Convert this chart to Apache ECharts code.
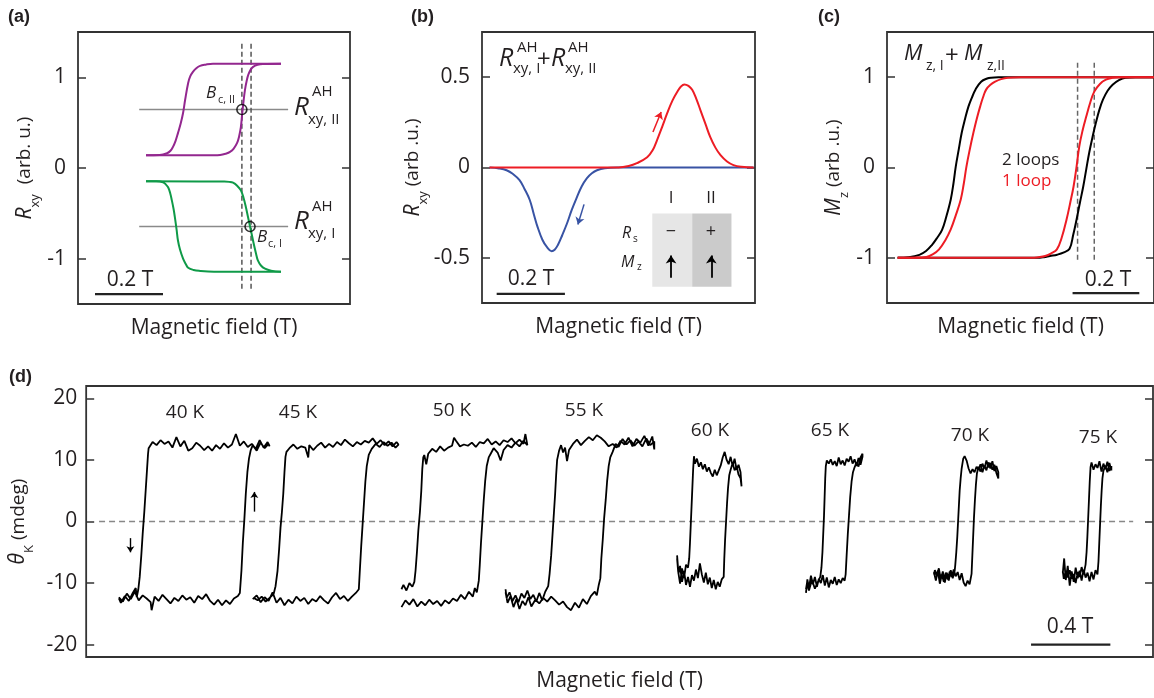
<!DOCTYPE html>
<html><head><meta charset="utf-8">
<script src="https://cdn.jsdelivr.net/npm/echarts@6/dist/echarts.min.js"></script>
<style>html,body{margin:0;padding:0;background:#fff}#c{width:1154px;height:698px}</style>
</head><body><div id="c"></div>
<script>
const FONT = '"Open Sans", Roboto, sans-serif';
const INK = '#231f20';
// ---------- Panel (a) ----------
const aPurpleDown = [[-0.2,0.14],[-0.16,0.143],[-0.138,0.163],[-0.128,0.19],[-0.121,0.23],[-0.113,0.3],[-0.106,0.385],[-0.098,0.49],[-0.091,0.606],[-0.085,0.75],[-0.076,0.938],[-0.07,1.01],[-0.062,1.06],[-0.052,1.1],[-0.041,1.126],[-0.025,1.14],[-0.003,1.15],[0.197,1.15]];
const aPurpleUp = [[-0.2,0.14],[0.0,0.14],[0.018,0.143],[0.035,0.158],[0.047,0.177],[0.058,0.215],[0.068,0.277],[0.074,0.35],[0.079,0.45],[0.083,0.6],[0.087,0.74],[0.091,0.86],[0.096,0.96],[0.101,1.03],[0.108,1.085],[0.115,1.115],[0.128,1.138],[0.144,1.147],[0.197,1.15]];
const aGreenDown = [[-0.2,-0.145],[-0.17,-0.147],[-0.15,-0.158],[-0.142,-0.18],[-0.135,-0.213],[-0.129,-0.275],[-0.124,-0.357],[-0.119,-0.45],[-0.115,-0.545],[-0.11,-0.68],[-0.106,-0.8],[-0.1,-0.9],[-0.091,-1.0],[-0.083,-1.06],[-0.076,-1.1],[-0.06,-1.125],[-0.041,-1.135],[0.0,-1.143],[0.197,-1.145]];
const aGreenUp = [[-0.2,-0.145],[0.03,-0.15],[0.045,-0.153],[0.056,-0.162],[0.068,-0.195],[0.079,-0.247],[0.087,-0.33],[0.094,-0.435],[0.1,-0.54],[0.106,-0.645],[0.112,-0.75],[0.118,-0.855],[0.124,-0.95],[0.129,-1.02],[0.138,-1.075],[0.15,-1.11],[0.168,-1.132],[0.197,-1.145]];
const aGuideLevels = [0.645, -0.645];
const aGuideRange = [-0.22, 0.218];
const aDashX = [0.082, 0.109];
const aDashRange = [1.37, -1.35];
const aCircles = [[0.082,0.645],[0.106,-0.645]];
const aBar = [[-0.35,-1.39],[-0.15,-1.39]];
const aTicks = [-1, 0, 1];
// ---------- Panel (b) ----------
const bBlue = [[-0.378,0],[-0.35,-0.005],[-0.328,-0.015],[-0.31,-0.035],[-0.29,-0.07],[-0.275,-0.12],[-0.26,-0.18],[-0.248,-0.26],[-0.237,-0.33],[-0.223,-0.4],[-0.21,-0.44],[-0.196,-0.463],[-0.187,-0.455],[-0.178,-0.43],[-0.165,-0.375],[-0.151,-0.31],[-0.137,-0.235],[-0.122,-0.165],[-0.108,-0.105],[-0.093,-0.06],[-0.078,-0.032],[-0.063,-0.015],[-0.04,-0.004],[-0.004,0],[0.396,0]];
const bRed = [[-0.378,0],[0.0,0],[0.03,0.008],[0.054,0.024],[0.084,0.057],[0.1,0.095],[0.113,0.152],[0.128,0.225],[0.143,0.302],[0.158,0.37],[0.172,0.418],[0.183,0.448],[0.193,0.46],[0.205,0.452],[0.216,0.43],[0.228,0.38],[0.24,0.318],[0.255,0.24],[0.269,0.168],[0.284,0.11],[0.299,0.068],[0.318,0.033],[0.337,0.013],[0.36,0.004],[0.396,0]];
const bRedArrow = [[0.101,0.196],[0.125,0.307]];
const bBlueArrow = [[-0.101,-0.204],[-0.119,-0.315]];
const bCellsX = [0.099, 0.216, 0.331];
const bCellsY = [-0.254, -0.66];
const bCellArrows = [[[0.154,-0.61],[0.154,-0.487]],[[0.272,-0.61],[0.272,-0.487]]];
const bBar = [[-0.357,-0.70],[-0.157,-0.70]];
const bTicks = [-0.5, 0, 0.5];
// ---------- Panel (c) ----------
const cBlackDown = [[-0.368,-1],[-0.335,-0.993],[-0.303,-0.967],[-0.283,-0.925],[-0.265,-0.856],[-0.25,-0.78],[-0.235,-0.69],[-0.222,-0.54],[-0.209,-0.354],[-0.201,-0.18],[-0.194,0.01],[-0.185,0.2],[-0.176,0.387],[-0.166,0.54],[-0.156,0.674],[-0.145,0.78],[-0.135,0.862],[-0.118,0.95],[-0.1,0.985],[-0.088,0.994],[-0.06,0.999],[-0.038,1],[0.4,1]];
const cBlackUp = [[-0.368,-1],[0.05,-1],[0.07,-0.993],[0.088,-0.98],[0.11,-0.965],[0.13,-0.94],[0.147,-0.9],[0.158,-0.745],[0.168,-0.575],[0.178,-0.39],[0.188,-0.21],[0.197,-0.02],[0.206,0.166],[0.216,0.34],[0.226,0.497],[0.236,0.635],[0.247,0.751],[0.261,0.85],[0.276,0.917],[0.295,0.968],[0.315,0.994],[0.344,1],[0.4,1]];
const cRedDown = [[-0.368,-1],[-0.32,-0.998],[-0.282,-0.99],[-0.262,-0.96],[-0.244,-0.906],[-0.226,-0.81],[-0.209,-0.685],[-0.194,-0.53],[-0.179,-0.354],[-0.17,-0.18],[-0.162,0.01],[-0.152,0.2],[-0.141,0.387],[-0.131,0.54],[-0.121,0.674],[-0.112,0.78],[-0.103,0.862],[-0.09,0.915],[-0.076,0.95],[-0.058,0.978],[-0.038,0.994],[0,1],[0.4,1]];
const cRedUp = [[-0.368,-1],[0.03,-1],[0.055,-0.993],[0.074,-0.98],[0.092,-0.95],[0.109,-0.906],[0.124,-0.77],[0.138,-0.575],[0.149,-0.39],[0.159,-0.21],[0.168,0.01],[0.176,0.232],[0.186,0.41],[0.197,0.564],[0.209,0.72],[0.221,0.84],[0.238,0.925],[0.256,0.972],[0.275,0.993],[0.294,1],[0.4,1]];
const cDashX = [0.171, 0.221];
const cDashRange = [1.16, -1.02];
const cBar = [[0.156,-1.39],[0.356,-1.39]];
const cTicks = [-1, 0, 1];
// ---------- Panel (d) ----------
const dTicks = [-20, -10, 0, 10, 20];
const dTemps = ['40 K','45 K','50 K','55 K','60 K','65 K','70 K','75 K'];
const d40 = [[0.55,-12.3],[0.57,-13.0],[0.59,-11.7],[0.61,-12.6],[0.63,-11.4],[0.65,-12.8],[0.67,-12.0],[0.69,-12.5],[0.71,-13.1],[0.715,-14.4],[0.73,-12.2],[0.75,-12.9],[0.77,-11.9],[0.79,-12.6],[0.81,-13.3],[0.83,-12.4],[0.85,-12.9],[0.87,-12.0],[0.89,-12.7],[0.91,-12.3],[0.93,-13.2],[0.95,-12.1],[0.97,-12.6],[0.99,-11.8],[1.01,-12.9],[1.03,-13.5],[1.05,-12.7],[1.07,-13.6],[1.09,-12.8],[1.11,-13.4],[1.13,-12.5],[1.15,-12.1],[1.16,-11.6],
[1.168,-8],[1.175,-3.5],[1.183,0.5],[1.19,4.5],[1.198,8],[1.206,10.2],[1.215,11.6],[1.225,12.4],[1.245,11.5],[1.265,12.8],[1.285,11.9],[1.305,12.6],[1.31,12.2],
[1.30,12.9],[1.28,12.0],[1.26,13.2],[1.24,11.8],[1.22,12.6],[1.20,12.1],[1.18,13.0],[1.16,12.3],[1.14,14.2],[1.12,12.5],[1.10,12.0],[1.08,12.7],[1.06,11.8],[1.04,12.4],[1.02,11.5],[1.00,12.2],[0.98,11.6],[0.96,12.3],[0.94,12.8],[0.92,11.9],[0.90,11.5],[0.88,13.1],[0.86,12.2],[0.84,13.7],[0.82,12.0],[0.80,13.0],[0.78,12.6],[0.76,13.2],[0.74,12.4],[0.72,12.9],[0.70,11.9],[0.697,11.0],
[0.692,8.5],[0.685,5],[0.678,1.5],[0.67,-2],[0.663,-5.5],[0.655,-9],[0.648,-11],[0.64,-12.3],[0.635,-10.8],[0.62,-11.6],[0.60,-12.9],[0.58,-12.1],[0.56,-13.2],[0.55,-12.5]];
const d45 = [[1.225,-12.6],[1.245,-12.0],[1.265,-13.1],[1.285,-12.3],[1.305,-12.9],[1.325,-11.5],[1.345,-13.2],[1.365,-12.4],[1.385,-13.6],[1.405,-12.7],[1.425,-13.3],[1.445,-12.2],[1.465,-12.9],[1.485,-12.4],[1.505,-13.4],[1.525,-12.6],[1.545,-13.0],[1.565,-12.1],[1.585,-12.8],[1.605,-13.3],[1.625,-12.3],[1.645,-11.6],[1.665,-12.6],[1.685,-12.1],[1.705,-12.9],[1.725,-12.2],[1.745,-11.6],[1.76,-11.0],
[1.765,-8],[1.772,-4],[1.779,-0.5],[1.786,3],[1.793,6.5],[1.80,9],[1.81,10.8],[1.825,11.8],[1.845,12.6],[1.865,12.1],[1.885,12.9],[1.905,12.3],[1.925,12.8],[1.945,12.0],[1.96,12.5],
[1.95,12.9],[1.93,12.2],[1.91,13.0],[1.89,12.4],[1.87,13.2],[1.85,12.6],[1.83,13.5],[1.81,12.8],[1.79,13.1],[1.77,12.5],[1.75,12.9],[1.73,12.2],[1.71,12.7],[1.69,13.3],[1.67,12.4],[1.65,12.9],[1.63,12.1],[1.61,12.6],[1.59,12.0],[1.57,12.8],[1.55,12.3],[1.53,11.6],[1.51,12.4],[1.505,10.4],[1.49,12.0],[1.47,12.2],[1.45,11.8],[1.43,12.5],[1.41,11.9],[1.395,11.3],[1.39,10.5],
[1.385,8],[1.379,4.5],[1.372,1.5],[1.365,-1],[1.358,-4.5],[1.35,-8],[1.34,-10.5],[1.33,-11.8],[1.31,-12.4],[1.29,-13.0],[1.27,-12.2],[1.25,-12.8],[1.23,-12.4]];
const d50 = [[1.975,-13.9],[1.995,-12.8],[2.015,-13.5],[2.035,-12.6],[2.055,-13.8],[2.075,-13.0],[2.095,-13.6],[2.115,-12.7],[2.135,-13.4],[2.155,-12.9],[2.175,-13.7],[2.195,-12.8],[2.215,-13.3],[2.235,-12.5],[2.255,-12.9],[2.275,-11.9],[2.295,-12.6],[2.315,-11.4],[2.335,-12.2],[2.345,-10.8],[2.355,-11.5],[2.365,-9.6],
[2.37,-7],[2.376,-3.5],[2.383,0],[2.39,3.5],[2.397,6.5],[2.405,9],[2.415,10.4],[2.425,11.0],[2.44,11.9],[2.46,11.2],[2.475,9.9],[2.49,11.6],[2.51,12.4],[2.53,12.0],[2.55,12.8],[2.57,12.2],[2.59,13.1],[2.61,12.4],
[2.60,14.2],[2.59,12.6],[2.57,13.3],[2.55,12.7],[2.53,13.5],[2.51,12.9],[2.49,13.2],[2.47,12.4],[2.45,13.0],[2.43,12.5],[2.41,13.4],[2.39,12.7],[2.37,12.9],[2.35,12.1],[2.33,12.8],[2.31,12.3],[2.29,12.5],[2.27,12.2],[2.25,13.1],[2.24,13.6],[2.23,12.3],[2.21,12.0],[2.19,11.5],[2.17,12.2],[2.15,11.3],[2.13,11.8],[2.11,11.0],[2.10,9.3],[2.09,10.8],[2.085,10.4],
[2.08,8.5],[2.075,5],[2.068,1.5],[2.06,-1.5],[2.053,-5],[2.046,-8],[2.04,-9.8],[2.03,-10.6],[2.015,-10.0],[2.00,-11.2],[1.985,-10.3],[1.975,-11.0]];
const d55 = [[2.50,-11.5],[2.51,-13.2],[2.525,-12.1],[2.54,-13.9],[2.555,-12.6],[2.57,-14.2],[2.585,-12.9],[2.60,-13.6],[2.615,-12.3],[2.63,-13.8],[2.65,-12.7],[2.67,-13.3],[2.69,-12.4],[2.71,-13.0],[2.73,-12.2],[2.75,-12.8],[2.77,-13.5],[2.79,-13.0],[2.81,-13.9],[2.83,-14.4],[2.85,-13.2],[2.87,-14.0],[2.89,-12.6],[2.91,-13.4],[2.93,-12.1],[2.95,-11.4],[2.96,-12.0],[2.97,-10.3],[2.978,-9.2],
[2.983,-6],[2.99,-3],[2.997,0.5],[3.005,3.5],[3.012,6.5],[3.02,9],[3.028,10.4],[3.04,11.3],[3.055,12.6],[3.07,12.1],[3.09,13.4],[3.11,12.5],[3.13,13.2],[3.15,12.3],[3.17,13.0],[3.19,12.2],[3.21,13.5],[3.23,12.4],[3.25,13.0],
[3.25,11.7],[3.24,13.8],[3.22,12.3],[3.20,13.9],[3.18,12.8],[3.16,13.4],[3.14,12.2],[3.12,13.6],[3.10,12.5],[3.08,13.1],[3.06,12.0],[3.04,12.6],[3.02,12.2],[3.00,13.0],[2.98,13.6],[2.96,14.0],[2.94,13.2],[2.92,13.7],[2.90,13.1],[2.88,12.4],[2.86,13.3],[2.84,12.6],[2.82,11.6],[2.81,9.8],[2.80,12.0],[2.79,11.2],[2.78,12.4],[2.77,11.5],[2.76,10.0],
[2.755,7.5],[2.75,4.5],[2.744,1.5],[2.737,-2],[2.73,-5.5],[2.722,-8.5],[2.715,-10.5],[2.70,-11.4],[2.685,-12.8],[2.67,-11.6],[2.655,-13.0],[2.64,-11.9],[2.625,-12.6],[2.61,-11.2],[2.595,-12.4],[2.58,-11.7],[2.565,-13.1],[2.55,-12.0],[2.535,-12.9],[2.52,-11.5],[2.505,-12.4],[2.50,-11.0]];
const d60 = [[3.365,-5.5],[3.372,-8.5],[3.38,-7.2],[3.39,-9.8],[3.40,-8.0],[3.41,-10.3],[3.42,-9.0],[3.43,-10.6],[3.44,-8.7],[3.45,-9.6],[3.46,-7.8],[3.47,-9.2],[3.48,-6.8],[3.49,-8.6],[3.50,-9.9],[3.51,-8.3],[3.52,-10.2],[3.53,-9.1],[3.54,-10.8],[3.55,-9.5],[3.56,-11.0],[3.57,-9.8],[3.58,-10.6],[3.59,-9.4],[3.60,-9.0],
[3.603,-6],[3.607,-3],[3.612,0],[3.617,3],[3.622,5.5],[3.628,7.5],[3.635,8.4],[3.645,9.5],[3.655,8.3],[3.665,9.0],[3.675,7.6],[3.685,7.0],[3.69,5.7],
[3.685,8.0],[3.675,9.2],[3.665,8.4],[3.655,10.2],[3.645,9.0],[3.635,10.5],[3.625,9.3],[3.615,10.0],[3.605,11.3],[3.595,10.4],[3.585,9.1],[3.575,8.3],[3.565,7.5],[3.555,8.4],[3.545,7.3],[3.535,7.9],[3.525,8.8],[3.515,8.1],[3.505,9.3],[3.495,8.5],[3.485,9.6],[3.475,8.9],[3.465,10.2],[3.455,9.4],[3.45,10.6],
[3.446,8.5],[3.442,5.5],[3.438,2.5],[3.434,-0.5],[3.43,-3.5],[3.426,-6],[3.42,-7.5],[3.41,-7.0],[3.40,-9.2],[3.39,-7.6],[3.38,-10.1],[3.37,-8.0],[3.365,-6.0]];
const d65 = [[4.015,-11.6],[4.022,-9.4],[4.03,-10.8],[4.04,-8.8],[4.05,-10.2],[4.06,-9.0],[4.07,-10.6],[4.08,-9.3],[4.09,-10.0],[4.10,-8.7],[4.11,-10.4],[4.12,-9.1],[4.13,-10.7],[4.14,-9.5],[4.15,-10.1],[4.16,-9.0],[4.17,-10.3],[4.18,-9.4],[4.19,-10.0],[4.20,-9.2],[4.21,-9.6],[4.215,-8.6],
[4.22,-5.5],[4.226,-2],[4.232,1],[4.238,4],[4.245,6.5],[4.252,8],[4.26,8.8],[4.27,9.6],[4.28,8.9],[4.29,10.4],[4.30,11.0],
[4.30,10.5],[4.29,9.2],[4.28,10.3],[4.27,9.0],[4.26,10.1],[4.25,9.4],[4.24,10.6],[4.23,9.7],[4.22,10.2],[4.21,9.1],[4.20,9.9],[4.19,9.3],[4.18,10.4],[4.17,9.0],[4.16,9.8],[4.15,9.2],[4.14,10.1],[4.13,9.4],[4.12,9.9],[4.115,9.0],
[4.112,7],[4.109,4],[4.106,1],[4.102,-2],[4.098,-5],[4.093,-7.5],[4.087,-9],[4.075,-9.8],[4.06,-10.9],[4.045,-9.5],[4.03,-11.2],[4.02,-10.0],[4.015,-11.0]];
const d70 = [[4.66,-8.2],[4.67,-9.6],[4.68,-8.0],[4.69,-10.1],[4.70,-8.6],[4.71,-9.8],[4.72,-8.3],[4.73,-9.4],[4.74,-8.1],[4.75,-9.0],[4.76,-7.8],[4.77,-8.9],[4.78,-8.2],[4.79,-9.5],[4.80,-8.4],[4.81,-9.9],[4.82,-10.5],[4.83,-9.6],[4.84,-10.2],[4.85,-8.5],
[4.854,-5.5],[4.858,-2.5],[4.862,0.5],[4.867,3.5],[4.872,6],[4.877,7.8],[4.885,8.9],[4.895,8.1],[4.905,9.4],[4.915,8.6],[4.925,9.9],[4.935,8.8],[4.945,9.5],[4.955,8.4],[4.965,9.2],[4.975,7.9],[4.985,7.0],
[4.985,8.0],[4.975,9.0],[4.965,8.2],[4.955,9.8],[4.945,8.6],[4.935,9.6],[4.925,8.3],[4.915,9.1],[4.905,8.0],[4.895,9.3],[4.885,8.4],[4.875,8.9],[4.865,8.0],[4.855,8.5],[4.845,7.8],[4.835,8.6],[4.825,9.9],[4.815,10.6],[4.808,10.2],[4.80,8.6],[4.795,7.0],
[4.79,5],[4.786,2.5],[4.782,0],[4.778,-2.5],[4.773,-5],[4.768,-7],[4.765,-8],[4.755,-9.2],[4.745,-7.9],[4.735,-9.6],[4.725,-8.3],[4.715,-9.9],[4.705,-8.1],[4.695,-9.4],[4.685,-7.6],[4.675,-8.8],[4.665,-7.9],[4.66,-8.6]];
const d75 = [[5.31,-8.4],[5.317,-6.0],[5.325,-9.5],[5.335,-7.2],[5.345,-10.4],[5.355,-8.1],[5.365,-9.8],[5.375,-7.5],[5.385,-9.2],[5.395,-8.0],[5.405,-9.6],[5.415,-7.8],[5.425,-9.1],[5.435,-8.3],[5.445,-9.7],[5.455,-8.2],[5.465,-9.4],[5.475,-7.9],[5.485,-8.6],[5.49,-6.5],
[5.494,-3.5],[5.498,-0.5],[5.502,2.5],[5.506,5],[5.51,7],[5.515,8.2],[5.525,9.1],[5.535,8.0],[5.545,9.5],[5.555,8.3],
[5.555,9.0],[5.545,8.2],[5.535,9.7],[5.525,8.5],[5.515,9.4],[5.505,8.1],[5.495,9.8],[5.485,8.7],[5.475,9.3],[5.465,8.4],[5.455,9.6],[5.45,8.8],
[5.446,6.5],[5.442,3.5],[5.438,0.5],[5.434,-2.5],[5.43,-5],[5.425,-7],[5.415,-8.6],[5.405,-7.4],[5.395,-9.0],[5.385,-8.2],[5.375,-10.0],[5.365,-8.5],[5.355,-9.3],[5.345,-7.9],[5.335,-9.1],[5.325,-8.0],[5.315,-9.3],[5.31,-8.0]];
const dLoops = [d40, d45, d50, d55, d60, d65, d70, d75];
const dZero = [[0.45,0],[5.665,0]];
const dArrows = [[[0.608,-2.7],[0.608,-5.0]],[[1.233,1.6],[1.233,4.8]]];
const dBar = [[5.15,-20],[5.55,-20]];

// ---------- layout ----------
const grids = [
  {left:78, top:32, width:272, height:272},
  {left:482, top:32, width:273, height:271},
  {left:887, top:32, width:272, height:271},
  {left:77, top:386, width:1076, height:271}
].map(g => Object.assign(g, {show:true, borderColor:'#333', borderWidth:1.8, backgroundColor:'transparent'}));
const xr = [[-0.4,0.4],[-0.4,0.4],[-0.4,0.4],[0.385,5.765]];
const yr = [[-1.5,1.5],[-0.75,0.75],[-1.5,1.5],[-22,22]];
const yt = [aTicks, bTicks, cTicks, dTicks];
const rich = {
  i:{fontStyle:'italic', fontSize:21, fontFamily:FONT, color:INK, lineHeight:34, verticalAlign:'middle'},
  s:{fontSize:13, fontFamily:FONT, color:INK, lineHeight:14, verticalAlign:'bottom'},
  n:{fontSize:19, fontFamily:FONT, color:INK, lineHeight:34, verticalAlign:'middle'}
};
const yNames = ['{i|R}{s|xy}{n|  (arb. u.)}','{i|R}{s|xy}{n| (arb .u.)}','{i|M}{s|z}{n| (arb .u.)}','{i|θ}{s|K}{n| (mdeg)}'];
const xAxes = xr.map((r,i)=>({gridIndex:i, type:'value', min:r[0], max:r[1], position:'bottom',
  axisLine:{show:false, onZero:false}, axisTick:{show:false}, axisLabel:{show:false}, splitLine:{show:false},
  name:'Magnetic field (T)', nameLocation:'middle', nameGap:14,
  nameTextStyle:{fontSize:21, fontFamily:FONT, color:INK}}));
const yLeft = yr.map((r,i)=>({gridIndex:i, type:'value', min:r[0], max:r[1], position:'left',
  axisLine:{show:false, onZero:false}, splitLine:{show:false},
  axisTick:{show:true, inside:true, length:8, lineStyle:{color:'#333', width:1.5}, customValues:yt[i]},
  axisLabel:{show:true, customValues:yt[i], margin:i===3?9:12, fontSize:21, fontFamily:FONT, color:INK},
  name:yNames[i], nameLocation:'middle', nameGap:i===3?32:36, nameTextStyle:{rich}}));
const yRight = yr.map((r,i)=>({gridIndex:i, type:'value', min:r[0], max:r[1], position:'right',
  axisLine:{show:false, onZero:false}, splitLine:{show:false}, axisLabel:{show:false},
  axisTick:{show:true, inside:true, length:8, lineStyle:{color:'#333', width:1.5}, customValues:yt[i]}}));

function L(g, data, color, width, extra){
  return Object.assign({type:'line', xAxisIndex:g, yAxisIndex:g, data, symbol:'none', showSymbol:false,
    lineStyle:{color, width}, animation:false, silent:true, z:3}, extra||{});
}
function smooth(g, data, color){ return L(g, data, color, 2, {smooth:0.4}); }
function arrows(g, pairs, color, width, size){
  return {type:'line', xAxisIndex:g, yAxisIndex:g, data:[], silent:true, animation:false,
    markLine:{silent:true, animation:false, symbol:['none','arrow'], symbolSize:size||7, label:{show:false},
      lineStyle:{color, width:width||1.4, type:'solid'},
      data:pairs.map(p=>[{coord:p[0]},{coord:p[1]}])}};
}
const series = [];
// (a)
aGuideLevels.forEach(v=>series.push(L(0,[[aGuideRange[0],v],[aGuideRange[1],v]],'#8a8a8a',1.6,{z:2})));
aDashX.forEach(v=>series.push(L(0,[[v,aDashRange[0]],[v,aDashRange[1]]],'#555',1.5,{z:2, lineStyle:{color:'#555',width:1.5,type:[5,3]}})));
series.push(smooth(0,aPurpleDown,'#93278f'), smooth(0,aPurpleUp,'#93278f'), smooth(0,aGreenDown,'#0f9a48'), smooth(0,aGreenUp,'#0f9a48'));
series.push({type:'scatter', xAxisIndex:0, yAxisIndex:0, data:aCircles, symbol:'circle', symbolSize:10, silent:true, animation:false, z:5,
  itemStyle:{color:'rgba(255,255,255,0)', borderColor:'#000', borderWidth:1.6}});
series.push(L(0,aBar,'#222',2.2));
// (b)
series.push({type:'line', xAxisIndex:1, yAxisIndex:1, data:[], silent:true, animation:false, z:1,
  markArea:{silent:true, animation:false, data:[
    [{coord:[bCellsX[0],bCellsY[0]], itemStyle:{color:'#e6e6e6'}},{coord:[bCellsX[1],bCellsY[1]]}],
    [{coord:[bCellsX[1],bCellsY[0]], itemStyle:{color:'#cbcbcb'}},{coord:[bCellsX[2],bCellsY[1]]}]]}});
series.push(smooth(1,bBlue,'#3853a4'), smooth(1,bRed,'#ed1c24'));
series.push(arrows(1,[bRedArrow],'#ed1c24',1.5,7), arrows(1,[bBlueArrow],'#3853a4',1.5,7), arrows(1,bCellArrows,'#000',1.8,8));
series.push(L(1,bBar,'#222',2.2));
// (c)
cDashX.forEach(v=>series.push(L(2,[[v,cDashRange[0]],[v,cDashRange[1]]],'#666',1.5,{z:2, lineStyle:{color:'#666',width:1.5,type:[5,3]}})));
series.push(smooth(2,cBlackDown,'#000'), smooth(2,cBlackUp,'#000'), smooth(2,cRedDown,'#ed1c24'), smooth(2,cRedUp,'#ed1c24'));
series.push(L(2,cBar,'#222',2.2));
// (d)
series.push(L(3,dZero,'#888',1.5,{z:2, lineStyle:{color:'#888',width:1.5,type:[6,4]}}));
dLoops.forEach(d=>series.push(L(3,d,'#000',1.8)));
series.push(arrows(3,dArrows,'#000',1.4,6));
series.push(L(3,dBar,'#222',2.2));

function T(x,y,text,font,fill,align){
  return {type:'text', x, y, z:100, zlevel:0, silent:true, style:{text, font, fill:fill||INK, textAlign:align||'left', align:align||'left', textVerticalAlign:'middle', verticalAlign:'middle'}};
}
const it = s => 'italic '+s+'px '+FONT;
const rg = s => s+'px '+FONT;
const bold = '700 18px "Liberation Sans", Arial, sans-serif';
const tempX = [185,298,452,584,710,830,970,1098];
const tempY = [413,413,411,411,431,431,436,438];
const G = [
  T(8,17,'(a)',bold), T(411,17,'(b)',bold), T(818,17,'(c)',bold), T(9,377,'(d)',bold),
  // (a)
  T(206,93,'B',it(17)), T(218,100,'c, II',rg(11)),
  T(294,108,'R',it(26)), T(312,92,'AH',rg(15)), T(308,120,'xy, II',rg(15)),
  T(294,222,'R',it(26)), T(312,207,'AH',rg(15)), T(308,234,'xy, I',rg(15)),
  T(257,237,'B',it(17)), T(268,244,'c, I',rg(11)),
  T(130,280,'0.2 T',rg(21),INK,'center'),
  // (b)
  T(499,59,'R',it(25)), T(517,48,'AH',rg(15)), T(513,69,'xy, I',rg(15)), T(537,60,'+',rg(24)),
  T(551,59,'R',it(25)), T(568,48,'AH',rg(15)), T(565,69,'xy, II',rg(15)),
  T(671,198,'I',rg(17),INK,'center'), T(711,198,'II',rg(17),INK,'center'),
  T(622,233,'R',it(16)), T(633,239,'s',rg(10)), T(671,232,'−',rg(18),INK,'center'), T(711,232,'+',rg(18),INK,'center'),
  T(621,262,'M',it(16)), T(637,267,'z',rg(10)),
  T(531,279,'0.2 T',rg(21),INK,'center'),
  // (c)
  T(904,54,'M',it(22)), T(926,66,'z, I',rg(14)), T(945,56,'+',rg(24)), T(964,54,'M',it(22)), T(987,66,'z,II',rg(14)),
  T(1002,160,'2 loops',rg(17)), T(1002,181,'1 loop',rg(17),'#ed1c24'),
  T(1108,280,'0.2 T',rg(21),INK,'center'),
  // (d)
  T(1070,627,'0.4 T',rg(21),INK,'center')
].concat(dTemps.map((t,i)=>T(tempX[i],tempY[i],t,rg(19),INK,'center')));

const chart = echarts.init(document.getElementById('c'), null, {renderer:'canvas'});
chart.setOption({animation:false, backgroundColor:'#fff', grid:grids, xAxis:xAxes, yAxis:yLeft.concat(yRight),
  series, graphic:{elements:G}});
</script></body></html>
